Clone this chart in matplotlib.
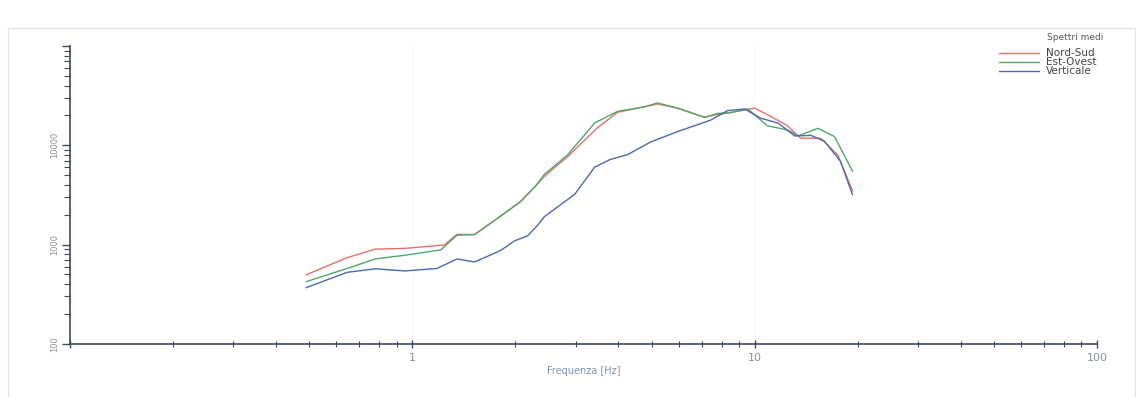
import matplotlib
matplotlib.use("Agg")
import matplotlib.pyplot as plt
from matplotlib.patches import Rectangle

# Spettri medi
freq_ns = [0.49, 0.645, 0.78, 0.95, 1.24, 1.35, 1.52, 1.81, 2.07, 2.29, 2.43, 2.84,
           3.47, 3.98, 4.77, 5.2, 5.95, 7.14, 7.79, 8.51, 10.0, 11.1, 12.5, 13.6,
           15.6, 17.5, 19.3]
amp_ns = [496, 738, 900, 915, 990, 1268, 1262, 1932, 2708, 3881, 4865, 7660,
          14990, 21540, 24450, 26100, 23700, 19140, 20460, 21380, 23700, 19730,
          15630, 11830, 11770, 7940, 3490]

freq_eo = [0.49, 0.645, 0.78, 0.95, 1.21, 1.35, 1.52, 1.81, 2.07, 2.29, 2.43, 2.84,
           3.41, 3.98, 4.77, 5.2, 5.95, 7.14, 7.79, 8.51, 9.55, 10.9, 12.5, 13.4,
           15.3, 17.1, 19.3]
amp_eo = [423, 574, 717, 780, 883, 1240, 1262, 1932, 2708, 3881, 5094, 8000,
          16820, 21980, 24450, 26730, 23700, 19140, 20940, 21380, 23230, 15700,
          14260, 12450, 14830, 12270, 5510]

freq_v = [0.49, 0.645, 0.78, 0.95, 1.18, 1.35, 1.52, 1.81, 1.99, 2.17, 2.32, 2.43,
          2.98, 3.41, 3.79, 4.25, 4.97, 5.95, 7.43, 8.34, 9.35, 10.4, 11.7, 13.1,
          14.6, 16.0, 17.8, 19.3]
amp_v = [368, 525, 570, 542, 574, 716, 667, 871, 1091, 1222, 1560, 1910,
         3206, 6030, 7210, 8050, 10810, 13740, 17910, 22390, 23230, 18790, 16750,
         12420, 12590, 10940, 6920, 3190]

series = [("Nord-Sud", freq_ns, amp_ns, "#e86f6a"),
          ("Est-Ovest", freq_eo, amp_eo, "#4ea86c"),
          ("Verticale", freq_v, amp_v, "#4a68b4")]

fig = plt.figure(figsize=(11.38, 3.97), dpi=100)
fig.patches.append(Rectangle((0.007, 0.0), 0.99, 0.93, transform=fig.transFigure,
                             fill=False, edgecolor="#e2e2e2", linewidth=0.8))
ax = fig.add_axes([0.0615, 0.134, 0.9025, 0.75])

for name, f, a, c in series:
    ax.plot(f, a, color=c, linewidth=1.0, label=name)

ax.set_xscale("log")
ax.set_yscale("log")
ax.set_xlim(0.1, 100)
ax.set_ylim(100, 100000)

ax.set_xticks([0.1, 1, 10, 100])
ax.set_xticklabels(["", "1", "10", "100"])
ax.set_yticks([100, 1000, 10000, 100000])
ax.set_yticklabels(["100", "1000", "10000", ""], rotation=90, va="center")

for s in ["top", "right"]:
    ax.spines[s].set_visible(False)
for s in ["left", "bottom"]:
    ax.spines[s].set_color("#3d4860")
    ax.spines[s].set_linewidth(1.2)

ax.tick_params(axis="x", which="major", direction="inout", length=6, width=1,
               colors="#3d4860", labelcolor="#8a8f9a", labelsize=8)
ax.tick_params(axis="x", which="minor", direction="inout", length=4, width=0.8,
               colors="#3d4860")
ax.tick_params(axis="y", which="major", direction="out", length=6, width=1,
               colors="#3d4860", labelcolor="#8a8f9a", labelsize=6, pad=2)
ax.tick_params(axis="y", which="minor", direction="out", length=4, width=0.8,
               colors="#3d4860")

ax.grid(True, which="major", axis="x", color="#f2f2f2", linewidth=0.6)
ax.set_xlabel("Frequenza [Hz]", color="#7f93b8", fontsize=7, labelpad=2)

# legenda
fig.text(1075 / 1138, 1 - 38 / 397, "Spettri medi", ha="center", va="center",
         fontsize=6.5, color="#555555")
leg = fig.legend(loc="upper left", bbox_to_anchor=(992 / 1138, 1 - 41 / 397),
                 frameon=False, fontsize=7.5, handlelength=3.8,
                 handletextpad=0.7, labelspacing=-0.1, borderpad=0.2)
for t in leg.get_texts():
    t.set_color("#444444")

fig.savefig("out.png", dpi=100)
